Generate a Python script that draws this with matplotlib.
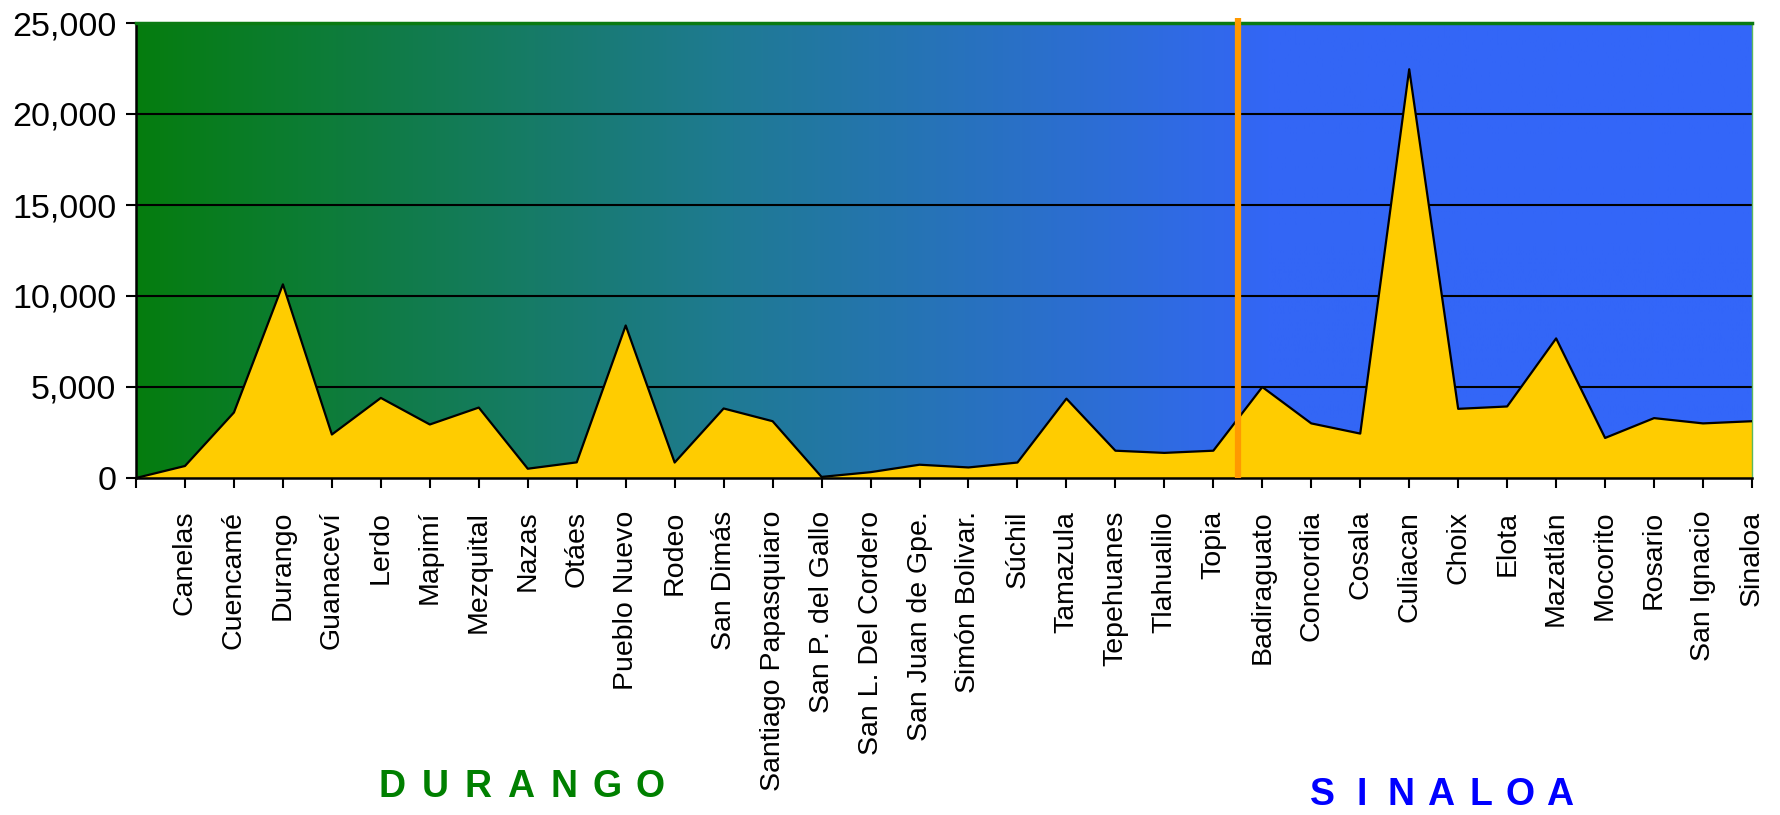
import numpy as np
import matplotlib.pyplot as plt

# municipios (first point is an unlabeled start at 0)
municipios = ["", "Canelas", "Cuencamé", "Durango", "Guanaceví", "Lerdo", "Mapimí",
              "Mezquital", "Nazas", "Otáes", "Pueblo Nuevo", "Rodeo", "San Dimás",
              "Santiago Papasquiaro", "San P. del Gallo", "San L. Del Cordero",
              "San Juan de Gpe.", "Simón Bolivar.", "Súchil", "Tamazula", "Tepehuanes",
              "Tlahualilo", "Topia", "Badiraguato", "Concordia", "Cosala", "Culiacan",
              "Choix", "Elota", "Mazatlán", "Mocorito", "Rosario", "San Ignacio", "Sinaloa"]
valores = [0, 660, 3600, 10640, 2390, 4400, 2940,
           3870, 510, 860, 8380, 850, 3820,
           3120, 60, 320,
           730, 580, 850, 4360, 1500,
           1380, 1500, 5000, 3000, 2440, 22460,
           3800, 3930, 7670, 2200, 3290, 3000, 3120]
divisor = 22.5   # between Topia and Badiraguato
yticks = [0, 5000, 10000, 15000, 20000, 25000]

plt.rcParams['font.family'] = ['Liberation Sans', 'DejaVu Sans']

fig = plt.figure(figsize=(17.8, 8.15), dpi=100)
ax = fig.add_axes([136/1780, 1-478/815, (1752-136)/1780, (478-23)/815])

x = np.arange(len(valores))
ax.set_xlim(0, len(valores)-1)
ax.set_ylim(0, 25000)

# background gradient green -> blue
stops = [(0.0, (5, 125, 14)), (0.37, (31, 122, 148)), (0.62, (46, 108, 220)),
         (0.70, (51, 102, 245)), (1.0, (51, 102, 250))]
pos = np.linspace(0, 1, 600)
grad = np.zeros((1, 600, 3))
for c in range(3):
    grad[0, :, c] = np.interp(pos, [s[0] for s in stops], [s[1][c]/255 for s in stops])
ax.imshow(grad, extent=[0, len(valores)-1, 0, 25000], aspect='auto', zorder=0)

for yv in yticks[1:-1]:
    ax.axhline(yv, color='black', lw=1.5, zorder=1)

ax.fill_between(x, valores, 0, facecolor='#FFCC00', edgecolor='none', zorder=2)
ax.plot(x, valores, color='black', lw=1.6, zorder=3)

ax.plot([divisor, divisor], [0, 25300], color='#FF9900', lw=4.5, solid_capstyle='butt',
        zorder=4, clip_on=False)

ax.set_xticks(x)
ax.set_xticklabels(municipios, rotation=90, fontsize=20.5, va='top', ha='center')
ax.set_yticks(yticks)
ax.set_yticklabels([f"{v:,}" for v in yticks], fontsize=24.5)
ax.tick_params(axis='x', direction='out', length=7.5, width=1.5, pad=16)
ax.tick_params(axis='y', direction='out', length=7, width=1.5, pad=7)

ax.spines['top'].set_color('#0a7a12')
ax.spines['top'].set_linewidth(2.5)
ax.spines['right'].set_color('#5cb85c')
ax.spines['right'].set_linewidth(1.0)
ax.spines['left'].set_linewidth(1.8)
ax.spines['bottom'].set_linewidth(1.8)

# state names, spaced letters
for i, ch in enumerate("DURANGO"):
    fig.text((521 + (i-3)*43)/1780, 1-787/815, ch, color='#008000', fontsize=27,
             fontweight='bold', ha='center', va='center',
             family=['Liberation Sans Narrow', 'Liberation Sans'])
for i, ch in enumerate("SINALOA"):
    fig.text((1441 + (i-3)*39.5)/1780, 1-795/815, ch, color='#0000FF', fontsize=27,
             fontweight='bold', ha='center', va='center',
             family=['Liberation Sans Narrow', 'Liberation Sans'])

plt.savefig('out.png', dpi=100)
